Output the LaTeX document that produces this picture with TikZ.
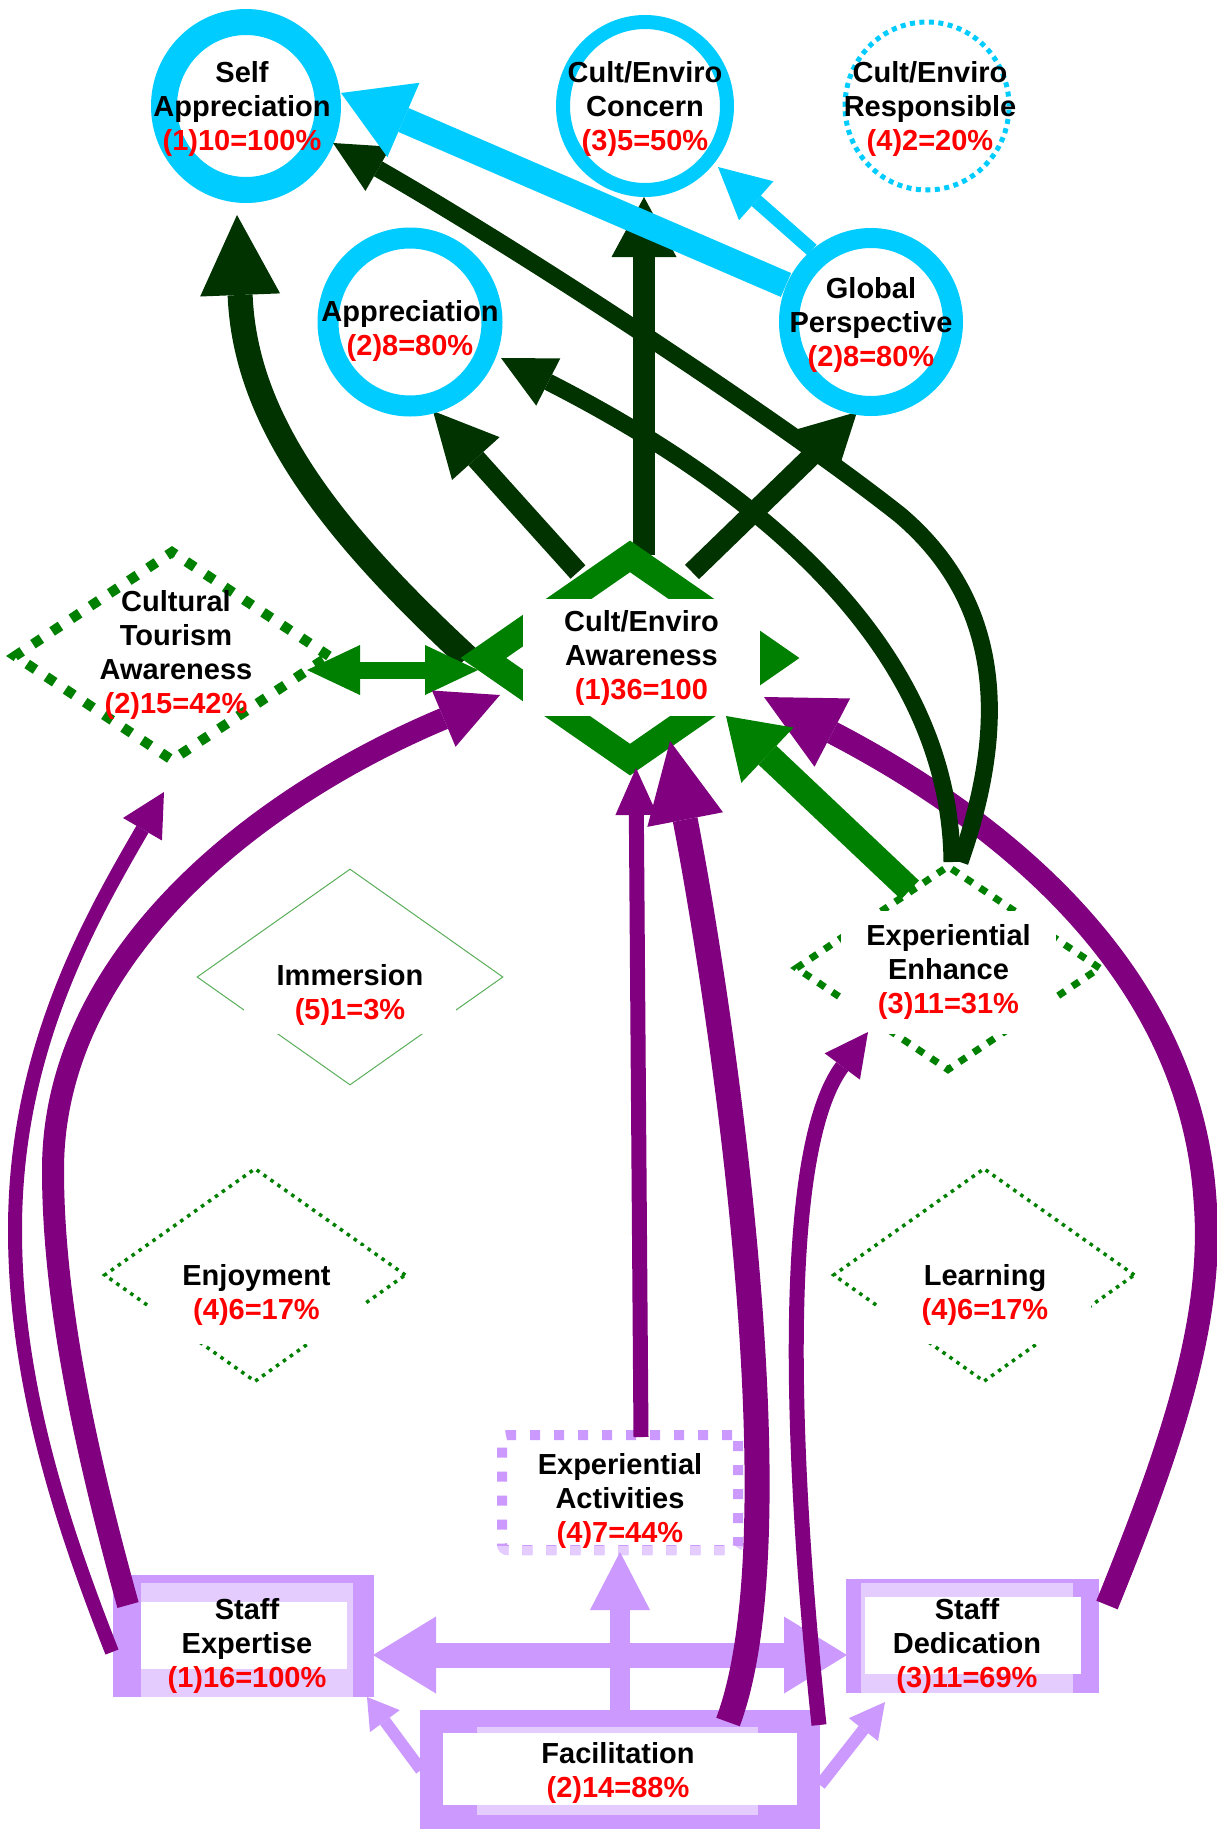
\documentclass[tikz,border=0pt]{standalone}
\usepackage{fontspec}
\setmainfont{Liberation Sans}
\usetikzlibrary{arrows.meta,shapes.geometric,calc}
\pgfdeclarelayer{under}
\pgfsetlayers{under,main}
\definecolor{sky}{RGB}{0,204,255}
\definecolor{dkg}{RGB}{0,51,0}
\definecolor{midgreen}{RGB}{0,128,0}
\definecolor{thingreen}{RGB}{90,175,90}
\definecolor{plum}{RGB}{128,0,128}
\definecolor{lav}{RGB}{204,153,255}
\definecolor{lavlight}{RGB}{228,204,255}
\definecolor{numred}{RGB}{255,0,0}
\newcommand{\pct}[1]{\textcolor{numred}{#1}}
\tikzset{
  txt/.style={font=\bfseries\fontsize{29}{34}\selectfont, align=center, inner sep=0pt, text=black},
  boxtxt/.style={txt, fill=white},
  ring/.style={ellipse, draw=sky, minimum width=164pt, minimum height=168pt, inner sep=0pt},
  gdiam/.style={diamond, draw=midgreen, inner sep=0pt},
  panel/.style={rectangle, inner sep=0pt},
  actbox/.style={panel, line width=10pt, dash pattern=on 10pt off 14pt, rounded corners=6pt, minimum width=236pt, minimum height=115pt},
  ah/.style args={#1/#2}{-{Triangle[length=#1pt,width=#2pt,line width=0pt]}},
  dah/.style args={#1/#2}{{Triangle[length=#1pt,width=#2pt,line width=0pt]}-{Triangle[length=#1pt,width=#2pt,line width=0pt]}},
}
\begin{document}
\begin{tikzpicture}[x=1pt,y=-1pt]
\begin{pgfonlayer}{under}
\fill[white] (0,0) rectangle (1216,1829);
\end{pgfonlayer}
\useasboundingbox (0,0) rectangle (1216,1829);

% outcome rings
\node[ring, line width=26pt] (sa) at (246,106) {};
\node[ring, line width=14pt] (cc) at (645,106) {};
\node[ring, line width=5pt, dash pattern=on 5pt off 4.5pt] (cr) at (927,106) {};
\node[ring, line width=20pt] (gp) at (871,322) {};
\node[ring, line width=21pt] (ap) at (410,322) {};

% benefit diamonds
\node[gdiam, line width=10pt, dash pattern=on 10pt off 13pt, minimum width=318pt, minimum height=212pt] (cta) at (172,656) {};
\node[gdiam, line width=7pt, dash pattern=on 8pt off 9pt, minimum width=306pt, minimum height=206pt] (eeh) at (948,968) {};
\node[gdiam, draw=thingreen, line width=1pt, minimum width=306pt, minimum height=216pt] (imm) at (350,977) {};
\node[gdiam, line width=3.5pt, dash pattern=on 3.5pt off 5pt, minimum width=302pt, minimum height=214pt] (enj) at (255,1275) {};
\node[gdiam, line width=3.5pt, dash pattern=on 3.5pt off 5pt, minimum width=302pt, minimum height=214pt] (lrn) at (984,1275) {};

\node[boxtxt, minimum width=215pt, minimum height=123pt] (eehT) at (948.5,972) {Experiential\\Enhance\\\pct{(3)11=31\%}};
\node[boxtxt, minimum width=212pt, minimum height=77pt] (immT) at (350,995) {Immersion\\\pct{(5)1=3\%}};
\node[boxtxt, minimum width=215pt, minimum height=98pt] (enjT) at (256.5,1295) {Enjoyment\\\pct{(4)6=17\%}};
\node[boxtxt, minimum width=212pt, minimum height=98pt] (lrnT) at (985,1295) {Learning\\\pct{(4)6=17\%}};

% programme factor boxes
\node[panel, fill=lav, minimum width=261pt, minimum height=122pt] (se) at (243.5,1636) {};
\node[panel, fill=lavlight, minimum width=212pt, minimum height=114pt] (seL) at (247,1640) {};
\node[panel, fill=white, minimum width=206pt, minimum height=67pt] (seW) at (244,1635.5) {};

\node[panel, fill=lav, minimum width=253pt, minimum height=114pt] (sd) at (972.5,1636) {};
\node[panel, fill=lavlight, minimum width=212pt, minimum height=110pt] (sdL) at (967,1638) {};
\node[panel, fill=white, minimum width=216pt, minimum height=77pt] (sdW) at (973,1635.5) {};

\node[panel, fill=lav, minimum width=400pt, minimum height=140pt] (fac) at (620,1780) {};
\node[panel, fill=lavlight, minimum width=281pt, minimum height=88pt] (facL) at (617.5,1771) {};
\node[panel, fill=white, minimum width=354pt, minimum height=72pt] (facW) at (620,1769) {};

\node[actbox, draw=lav] (xa) at (620,1492.5) {};
\begin{scope}
  \clip (480,1546) rectangle (760,1570);
  \node[actbox, draw=lavlight] (xaLow) at (620,1492.5) {};
\end{scope}

% awareness hub
\node[gdiam, line width=26pt, minimum width=304pt, minimum height=214pt] (cea) at (630,658) {};
\node[boxtxt, minimum width=237pt, minimum height=117pt] (ceaT) at (641.5,657.5) {Cult/Enviro\\Awareness\\\pct{(1)36=100}};

% links out of the hub, kept beneath it
\begin{pgfonlayer}{under}
\draw[dkg, line width=25pt, ah=80/80] ($(cea)+(-163,-1)$) .. controls (330,530) and (245,420) .. ($(sa)+(-9,109)$);
\draw[dkg, line width=20pt, ah=64/64] ($(cea)+(-52,-86)$) -- ($(ap)+(23,89)$);
\draw[dkg, line width=22pt, ah=60/65] ($(cea)+(14,-103)$) -- ($(cc)+(-1,91)$);
\draw[dkg, line width=20pt, ah=60/64] ($(cea)+(62,-86)$) -- ($(gp)+(-14,90)$);
\end{pgfonlayer}

\draw[midgreen, line width=17pt, dah=53/50] ($(cta)+(135,14)$) -- ($(cea)+(-152,12)$);

% links among programme factors
\draw[lav, line width=25pt, dah=63/77] ($(se)+(129.5,19)$) -- ($(sd)+(-125.5,19)$);
\draw[lav, line width=20pt, ah=58/60] ($(fac)+(0,-68)$) -- ($(xa)+(0,59.5)$);
\draw[lav, line width=12pt, ah=30/37] ($(fac)+(-199,-10)$) -- ($(se)+(123.5,61)$);
\draw[lav, line width=12pt, ah=35/37] ($(fac)+(200,5)$) -- ($(sd)+(-87.5,66)$);

% links from programme factors to benefits
\draw[plum, line width=22pt, ah=61/61] ($(se)+(-115.5,-31)$) .. controls (85,1450) and (53,1300) .. (53,1170) .. controls (53,960) and (250,800) .. ($(cea)+(-130,37)$);
\draw[plum, line width=14pt, ah=43/45] ($(se)+(-131.5,16)$) .. controls (60,1520) and (15,1380) .. (15,1230) .. controls (15,1050) and (90,920) .. ($(cta)+(-8,136)$);
\draw[plum, line width=15pt, ah=47/42] ($(xa)+(21,-55.5)$) -- ($(cea)+(6,110)$);
\draw[plum, line width=25pt, ah=80/77] ($(fac)+(108,-58)$) .. controls (800,1530) and (720,1000) .. ($(cea)+(40,83)$);
\draw[plum, line width=15pt, ah=43/44] ($(fac)+(199,-55)$) .. controls (790,1450) and (780,1150) .. ($(eeh)+(-80,64)$);
\draw[plum, line width=23pt, ah=77/77] ($(sd)+(134.5,-31)$) .. controls (1170,1450) and (1215,1320) .. (1205,1200) .. controls (1190,970) and (1000,820) .. ($(cea)+(134,39)$);

% links from experiential enhancement
\draw[dkg, line width=17pt, ah=53/53] ($(eeh)+(4,-106)$) .. controls (950,660) and (780,500) .. ($(ap)+(91,36)$);
\draw[dkg, line width=17pt, ah=52/51] ($(eeh)+(12,-106)$) .. controls (1010,720) and (1000,600) .. (900,515) .. controls (780,420) and (520,250) .. ($(sa)+(87,37)$);
\draw[midgreen, line width=26pt, ah=57/76] ($(eeh)+(-38,-78)$) -- ($(cea)+(96,58)$);

% links between outcomes
\draw[sky, line width=26pt, ah=68/81] ($(gp)+(-85,-37)$) -- ($(sa)+(95,-13)$);
\draw[sky, line width=14pt, ah=51/52] ($(gp)+(-59,-72)$) -- ($(cc)+(73,61)$);

% labels
\node[txt] (saT) at (242,109) {Self\\Appreciation\\\pct{(1)10=100\%}};
\node[txt] (ccT) at (645,109) {Cult/Enviro\\Concern\\\pct{(3)5=50\%}};
\node[txt] (crT) at (930,109) {Cult/Enviro\\Responsible\\\pct{(4)2=20\%}};
\node[txt] (gpT) at (871,325) {Global\\Perspective\\\pct{(2)8=80\%}};
\node[txt] (apT) at (410,331) {Appreciation\\\pct{(2)8=80\%}};
\node[txt] (ctaT) at (176,655) {Cultural\\Tourism\\Awareness\\\pct{(2)15=42\%}};
\node[txt] (seT) at (247,1646) {Staff\\Expertise\\\pct{(1)16=100\%}};
\node[txt] (sdT) at (967,1646) {Staff\\Dedication\\\pct{(3)11=69\%}};
\node[txt] (facT) at (618,1773) {Facilitation\\\pct{(2)14=88\%}};
\node[txt] (xaT) at (620,1501) {Experiential\\Activities\\\pct{(4)7=44\%}};
\end{tikzpicture}
\end{document}
